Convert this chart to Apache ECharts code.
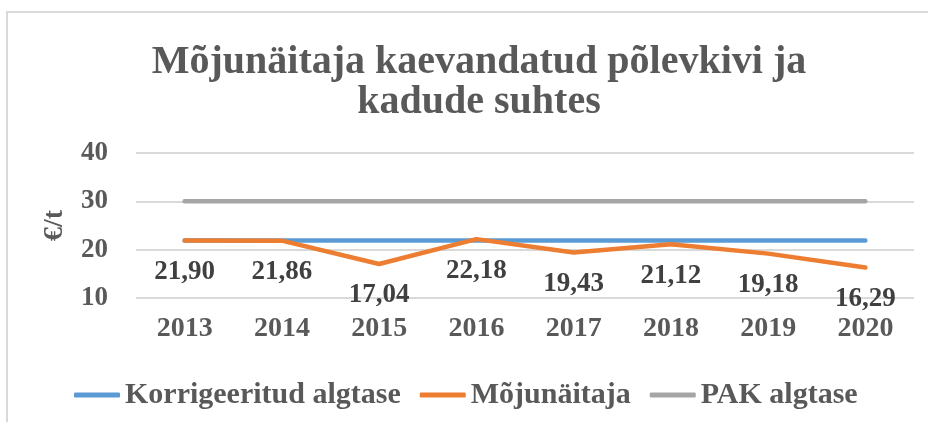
<!DOCTYPE html>
<html>
<head>
<meta charset="utf-8">
<script src="https://cdn.jsdelivr.net/npm/echarts@6/dist/echarts.min.js"></script>
<style>
  html, body { margin: 0; padding: 0; background: #fff; }
  #chart { width: 928px; height: 422px; }
</style>
</head>
<body>
<div id="chart"></div>
<script>
// andmed
const years = ['2013', '2014', '2015', '2016', '2017', '2018', '2019', '2020'];
const korrigeeritud = [21.9, 21.9, 21.9, 21.9, 21.9, 21.9, 21.9, 21.9];
const mojunaitaja = [21.90, 21.86, 17.04, 22.18, 19.43, 21.12, 19.18, 16.29];
const pakAlgtase = [30, 30, 30, 30, 30, 30, 30, 30];
const yTicks = [10, 20, 30, 40];

const FONT = 'Liberation Serif';
const TXT = '#595959';

const myChart = echarts.init(document.getElementById('chart'));

const option = {
    animation: false,
    textStyle: { fontFamily: FONT },
    graphic: [{
        type: 'rect',
        shape: { x: 7, y: 12, width: 940, height: 440 },
        style: { fill: 'none', stroke: '#d9d9d9', lineWidth: 2 },
        silent: true
    }],
    title: {
        text: 'Mõjunäitaja kaevandatud põlevkivi ja\nkadude suhtes',
        left: 474,
        textAlign: 'center',
        top: 38,
        textStyle: {
            fontFamily: FONT,
            fontWeight: 'bold',
            fontSize: 40,
            lineHeight: 40,
            color: TXT
        }
    },
    legend: {
        data: ['Korrigeeritud algtase', 'Mõjunäitaja', 'PAK algtase'],
        left: 69,
        top: 375,
        icon: 'roundRect',
        itemWidth: 46,
        itemHeight: 5,
        itemGap: 19,
        textStyle: {
            fontFamily: FONT,
            fontWeight: 'bold',
            fontSize: 30,
            color: TXT
        }
    },
    grid: {
        left: 136,
        right: 14,
        top: 153,
        bottom: 124
    },
    xAxis: {
        type: 'category',
        data: years,
        boundaryGap: true,
        axisLine: { show: false },
        axisTick: { show: false },
        axisLabel: {
            margin: 17,
            fontFamily: FONT,
            fontWeight: 'bold',
            fontSize: 28,
            color: TXT
        }
    },
    yAxis: {
        type: 'value',
        min: yTicks[0],
        max: yTicks[yTicks.length - 1],
        interval: 10,
        name: '€/t',
        nameLocation: 'middle',
        nameGap: 67,
        nameTextStyle: {
            fontFamily: FONT,
            fontWeight: 'bold',
            fontSize: 28,
            color: TXT
        },
        axisLine: { show: false },
        axisTick: { show: false },
        axisLabel: {
            margin: 28,
            fontFamily: FONT,
            fontWeight: 'bold',
            fontSize: 27,
            color: TXT
        },
        splitLine: {
            lineStyle: { color: '#d9d9d9', width: 2 }
        }
    },
    series: [{
        name: 'Korrigeeritud algtase',
        type: 'line',
        data: korrigeeritud,
        showSymbol: false,
        symbol: 'none',
        itemStyle: { color: '#5B9BD5' },
        lineStyle: { color: '#5B9BD5', width: 4.5, cap: 'round' }
    }, {
        name: 'Mõjunäitaja',
        type: 'line',
        data: mojunaitaja,
        symbol: 'circle',
        symbolSize: 0.1,
        itemStyle: { color: '#ED7D31' },
        lineStyle: { color: '#ED7D31', width: 4.5, cap: 'round', join: 'round' },
        label: {
            show: true,
            position: 'bottom',
            distance: 18,
            fontFamily: FONT,
            fontWeight: 'bold',
            fontSize: 27,
            color: '#404040',
            formatter: function (p) {
                return p.value.toFixed(2).replace('.', ',');
            }
        }
    }, {
        name: 'PAK algtase',
        type: 'line',
        data: pakAlgtase,
        showSymbol: false,
        symbol: 'none',
        itemStyle: { color: '#A5A5A5' },
        lineStyle: { color: '#A5A5A5', width: 4.5, cap: 'round' }
    }]
};

myChart.setOption(option);
</script>
</body>
</html>
